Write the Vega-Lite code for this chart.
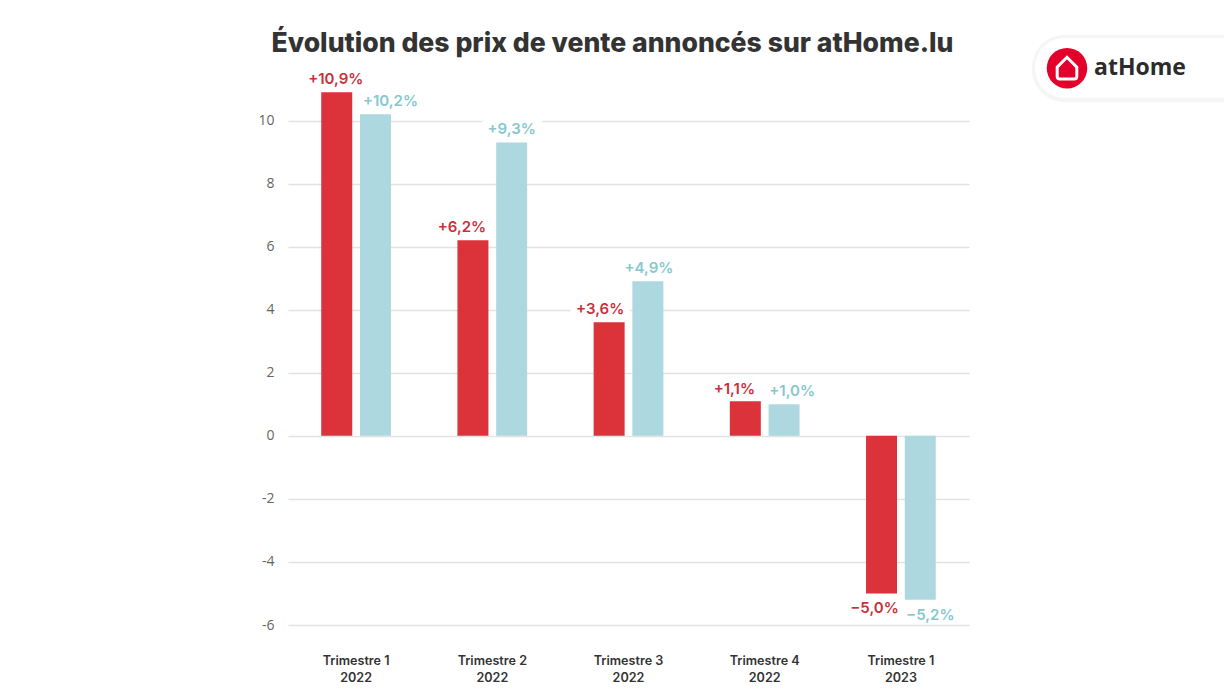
{
"$schema":"https://vega.github.io/schema/vega-lite/v6.json",
"autosize":{"type":"none"},
"width":681,"height":536,
"padding":{"left":288,"top":89,"right":255,"bottom":64},
"background":"white",
"title":{"text":"Évolution des prix de vente annoncés sur atHome.lu","font":"Inter","fontWeight":800,"fontSize":26.6,"color":"#333333","anchor":"middle","dx":-16,"offset":0,"dy":23},
"config":{"view":{"stroke":null}},
"datasets":{
"prices":[
{"quarter":"Trimestre 1|2022","series":"A","value":10.9,"label":"+10,9%"},
{"quarter":"Trimestre 1|2022","series":"B","value":10.2,"label":"+10,2%"},
{"quarter":"Trimestre 2|2022","series":"A","value":6.2,"label":"+6,2%"},
{"quarter":"Trimestre 2|2022","series":"B","value":9.3,"label":"+9,3%"},
{"quarter":"Trimestre 3|2022","series":"A","value":3.6,"label":"+3,6%"},
{"quarter":"Trimestre 3|2022","series":"B","value":4.9,"label":"+4,9%"},
{"quarter":"Trimestre 4|2022","series":"A","value":1.1,"label":"+1,1%"},
{"quarter":"Trimestre 4|2022","series":"B","value":1.0,"label":"+1,0%"},
{"quarter":"Trimestre 1|2023","series":"A","value":-5.0,"label":"−5,0%"},
{"quarter":"Trimestre 1|2023","series":"B","value":-5.2,"label":"−5,2%"}
],
"logo":[{"left":747,"right":966,"top":12.62,"bottom":10.72,"sleft":744,"sright":970,"stop":12.72,"sbottom":10.58,"cx":779,"cy":11.66,"tx":806,"name":"atHome"}]
},
"layer":[
{"data":{"name":"prices"},
"encoding":{
"x":{"field":"quarter","type":"nominal","sort":["Trimestre 1|2022","Trimestre 2|2022","Trimestre 3|2022","Trimestre 4|2022","Trimestre 1|2023"],"scale":{"domain":["Trimestre 1|2022","Trimestre 2|2022","Trimestre 3|2022","Trimestre 4|2022","Trimestre 1|2023"],"paddingInner":0.488,"paddingOuter":0.244},"title":null,
"axis":{"domain":false,"ticks":false,"labelAngle":0,"labelExpr":"split(datum.value,'|')","labelFont":"Inter","labelFontWeight":600,"labelFontSize":12.6,"labelColor":"#333333","labelPadding":29,"labelLineHeight":17,"grid":false}},
"xOffset":{"field":"series","type":"nominal","scale":{"domain":["A","B"],"paddingInner":0.2,"paddingOuter":0}},
"y":{"field":"value","type":"quantitative","scale":{"domain":[-6,11],"nice":false,"zero":false},"title":null,
"axis":{"values":[-6,-4,-2,0,2,4,6,8,10],"labelExpr":"toString(datum.value)","domain":false,"ticks":false,"grid":true,"gridColor":"#e2e2e2","gridWidth":1.5,"labelFont":"Open Sans","labelFontSize":14,"labelColor":"#666666","labelPadding":14}}
},
"layer":[
{"transform":[{"filter":"datum.label=='+9,3%'"}],"mark":{"type":"text","font":"Inter","fontWeight":600,"fontSize":15,"dy":-14,"stroke":"white","strokeWidth":14,"fill":"white"},"encoding":{"text":{"field":"label"}}},
{"transform":[{"filter":"datum.label=='+3,6%'"}],"mark":{"type":"text","font":"Inter","fontWeight":600,"fontSize":15,"dx":-9,"dy":-13,"stroke":"white","strokeWidth":14,"fill":"white"},"encoding":{"text":{"field":"label"}}},
{"mark":{"type":"bar"},"encoding":{"y2":{"datum":0},"color":{"field":"series","type":"nominal","legend":null,"scale":{"domain":["A","B"],"range":["#DC323A","#AED8DF"]}}}},
{"transform":[{"filter":"datum.label=='+10,9%'"}],"mark":{"type":"text","font":"Inter","fontWeight":600,"fontSize":15,"color":"#C8303A","dx":-1,"dy":-13},"encoding":{"text":{"field":"label"}}},
{"transform":[{"filter":"datum.label=='+6,2%'"}],"mark":{"type":"text","font":"Inter","fontWeight":600,"fontSize":15,"color":"#C8303A","dx":-11,"dy":-13},"encoding":{"text":{"field":"label"}}},
{"transform":[{"filter":"datum.label=='+3,6%'"}],"mark":{"type":"text","font":"Inter","fontWeight":600,"fontSize":15,"color":"#C8303A","dx":-9,"dy":-13},"encoding":{"text":{"field":"label"}}},
{"transform":[{"filter":"datum.label=='+1,1%'"}],"mark":{"type":"text","font":"Inter","fontWeight":600,"fontSize":15,"color":"#C8303A","dx":-11,"dy":-12},"encoding":{"text":{"field":"label"}}},
{"transform":[{"filter":"datum.label=='−5,0%'"}],"mark":{"type":"text","font":"Inter","fontWeight":600,"fontSize":15,"color":"#C8303A","dx":-7,"dy":15},"encoding":{"text":{"field":"label"}}},
{"transform":[{"filter":"datum.label=='+10,2%'"}],"mark":{"type":"text","font":"Inter","fontWeight":600,"fontSize":15,"color":"#86C8CE","dx":15,"dy":-13},"encoding":{"text":{"field":"label"}}},
{"transform":[{"filter":"datum.label=='+9,3%'"}],"mark":{"type":"text","font":"Inter","fontWeight":600,"fontSize":15,"color":"#86C8CE","dx":0,"dy":-14},"encoding":{"text":{"field":"label"}}},
{"transform":[{"filter":"datum.label=='+4,9%'"}],"mark":{"type":"text","font":"Inter","fontWeight":600,"fontSize":15,"color":"#86C8CE","dx":1,"dy":-13},"encoding":{"text":{"field":"label"}}},
{"transform":[{"filter":"datum.label=='+1,0%'"}],"mark":{"type":"text","font":"Inter","fontWeight":600,"fontSize":15,"color":"#86C8CE","dx":8,"dy":-13},"encoding":{"text":{"field":"label"}}},
{"transform":[{"filter":"datum.label=='−5,2%'"}],"mark":{"type":"text","font":"Inter","fontWeight":600,"fontSize":15,"color":"#86C8CE","dx":10,"dy":15},"encoding":{"text":{"field":"label"}}}
]},
{"data":{"name":"logo"},
"encoding":{"x":{"field":"cx","type":"quantitative","scale":{"domain":[0,681],"nice":false,"zero":false},"axis":null},"y":{"field":"cy","type":"quantitative","scale":{"domain":[-6,11],"nice":false,"zero":false},"axis":null}},
"layer":[
{"mark":{"type":"bar","color":"#f5f5f5","cornerRadius":33,"clip":false},"encoding":{"x":{"field":"sleft","type":"quantitative"},"x2":{"field":"sright"},"y":{"field":"stop","type":"quantitative"},"y2":{"field":"sbottom"}}},
{"mark":{"type":"bar","color":"#ffffff","cornerRadius":30,"clip":false},"encoding":{"x":{"field":"left","type":"quantitative"},"x2":{"field":"right"},"y":{"field":"top","type":"quantitative"},"y2":{"field":"bottom"}}},
{"mark":{"type":"point","shape":"circle","filled":true,"color":"#E3002B","size":1640,"opacity":1}},
{"mark":{"type":"point","shape":"M -0.45 -0.05 L 0 -0.5 L 0.45 -0.05 L 0.45 0.38 Q 0.45 0.5 0.33 0.5 L -0.33 0.5 Q -0.45 0.5 -0.45 0.38 Z","filled":false,"stroke":"#ffffff","strokeWidth":3,"size":1900,"opacity":1}},
{"mark":{"type":"text","font":"Open Sans","fontWeight":700,"fontSize":23,"color":"#2b2b2b","align":"left","baseline":"middle"},"encoding":{"x":{"field":"tx","type":"quantitative"},"text":{"field":"name"}}}
]}
],
"resolve":{"scale":{"x":"independent","y":"independent"}}
}
